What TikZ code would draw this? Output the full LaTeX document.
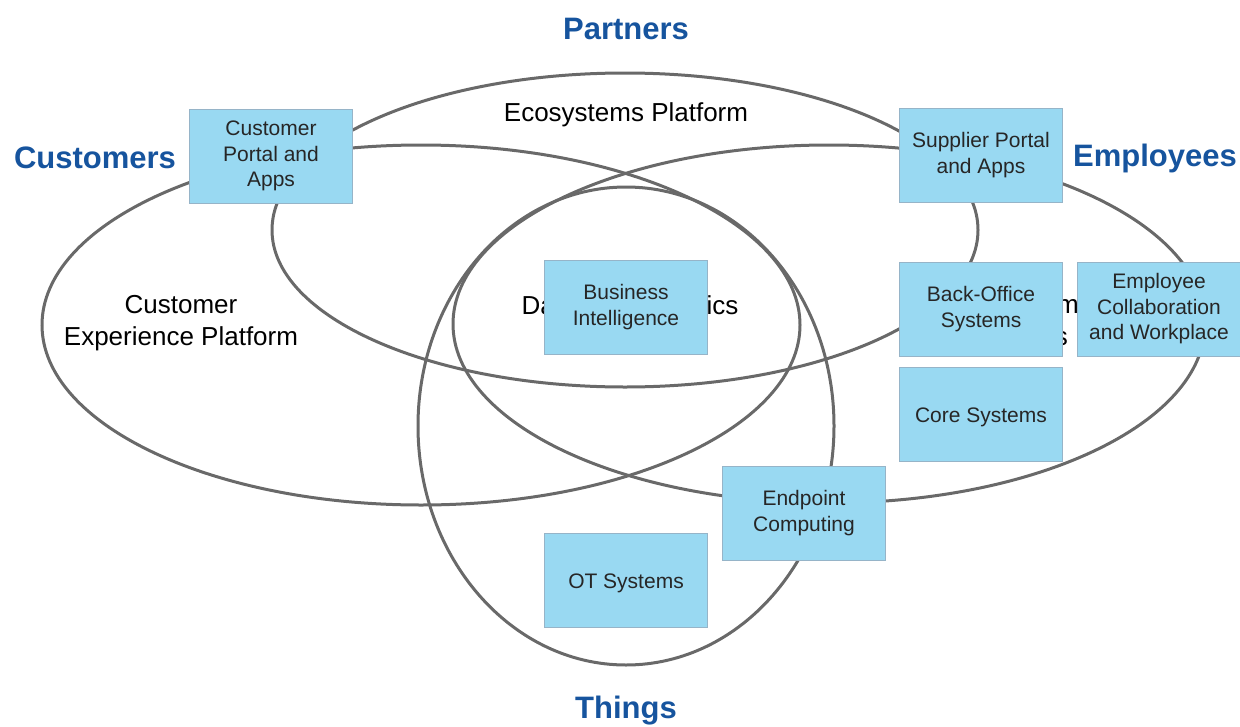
\documentclass[tikz,border=0pt]{standalone}
\usepackage{fontspec}
\setmainfont{Liberation Sans}
\newlength{\du}
\setlength{\du}{1pt}
\definecolor{headblue}{RGB}{22,84,158}
\definecolor{boxfill}{RGB}{153,217,242}
\definecolor{boxline}{RGB}{150,180,200}
\definecolor{ringgray}{RGB}{105,105,105}
\tikzset{
  ring/.style={draw=ringgray, line width=3\du},
  platform/.style={align=center, inner sep=0pt, font=\fontsize{26}{32}\selectfont},
  group/.style={inner sep=0pt, text=headblue, font=\fontsize{31}{37}\selectfont\bfseries},
  capability/.style={draw=boxline, fill=boxfill, line width=1\du, inner sep=0pt,
    minimum width=163\du, minimum height=94\du, align=center, text=black!85,
    font=\fontsize{21}{25.5}\selectfont,
    execute at begin node={\rule{0pt}{20.5\du}}}
}

\begin{document}
\begin{tikzpicture}[yscale=-1]
\useasboundingbox (0\du,0\du) rectangle (1240\du,726\du);
% platform rings
\draw[ring] (625\du,230\du) ellipse [x radius=353\du, y radius=157\du];
\draw[ring] (421\du,325\du) ellipse [x radius=379\du, y radius=180\du];
\draw[ring] (829\du,324\du) ellipse [x radius=376\du, y radius=179\du];
\draw[ring] (626\du,426\du) ellipse [x radius=208\du, y radius=239\du];
% platform names
\node[platform] (eco) at (626\du,115\du) {Ecosystems Platform};
\node[platform] (cxp) at (181\du,323\du) {Customer\\Experience Platform};
\node[platform] (isp) at (1070\du,323\du) {Information\\Systems Platform};
\node[platform] (dap) at (630\du,308\du) {Data and Analytics};
% capability boxes
\node[capability] (cportal) at (271\du,156\du) {Customer\\Portal and\\Apps};
\node[capability] (sportal) at (981\du,155\du) {Supplier Portal\\and Apps};
\node[capability] (backoff) at (981\du,309\du) {Back-Office\\Systems};
\node[capability] (collab) at (1159\du,309\du) {Employee\\Collaboration\\and Workplace};
\node[capability] (core) at (981\du,414\du) {Core Systems};
\node[capability] (bi) at (626\du,307\du) {Business\\Intelligence};
\node[capability] (endpoint) at (804\du,513\du) {Endpoint\\Computing};
\node[capability] (ot) at (626\du,580\du) {OT Systems};
% groups
\node[group] (partners) at (626\du,29\du) {Partners};
\node[group] (customers) at (95\du,158\du) {Customers};
\node[group] (employees) at (1155\du,158\du) {Employees};
\node[group] (things) at (626\du,711\du) {Things};
\end{tikzpicture}
\end{document}
